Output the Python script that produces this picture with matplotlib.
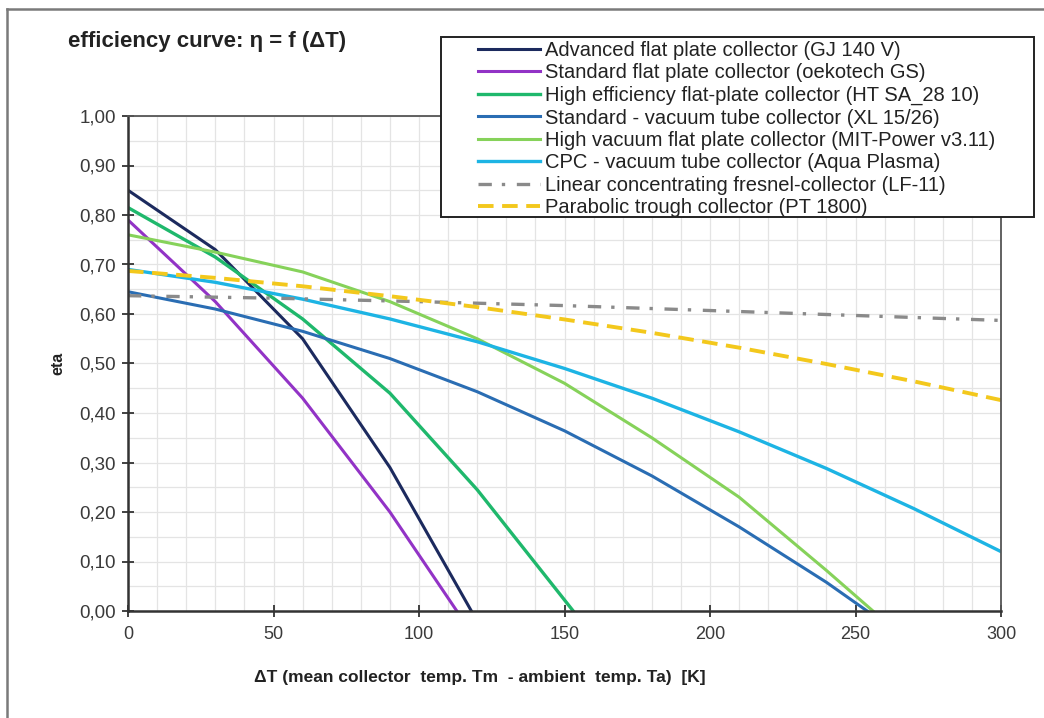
import numpy as np
import matplotlib.pyplot as plt
from matplotlib.lines import Line2D
from matplotlib.patches import Rectangle
from matplotlib.ticker import MultipleLocator, FuncFormatter

plt.rcParams['font.family'] = ['Liberation Sans', 'DejaVu Sans']

# efficiency values read per collector (delta T in K, eta)
t_gj = [0, 30, 60, 90, 118]
eta_gj = [0.85, 0.73, 0.55, 0.29, 0.0]

t_oeko = [0, 30, 60, 90, 113]
eta_oeko = [0.79, 0.625, 0.43, 0.20, 0.0]

t_htsa = [0, 30, 60, 90, 120, 153]
eta_htsa = [0.815, 0.715, 0.59, 0.44, 0.245, 0.0]

t_xl = [0, 30, 60, 90, 120, 150, 180, 210, 240, 254]
eta_xl = [0.645, 0.61, 0.565, 0.51, 0.443, 0.364, 0.273, 0.17, 0.058, 0.0]

t_mit = [0, 30, 60, 90, 120, 150, 180, 210, 240, 256]
eta_mit = [0.76, 0.725, 0.685, 0.625, 0.55, 0.46, 0.35, 0.23, 0.082, 0.0]

t_cpc = [0, 30, 60, 90, 120, 150, 180, 210, 240, 270, 300]
eta_cpc = [0.69, 0.664, 0.63, 0.59, 0.544, 0.49, 0.43, 0.362, 0.288, 0.207, 0.12]

t_lf = [0, 50, 100, 150, 200, 250, 300]
eta_lf = [0.637, 0.632, 0.625, 0.617, 0.607, 0.597, 0.587]

t_pt = [0, 30, 60, 90, 120, 150, 180, 210, 240, 270, 300]
eta_pt = [0.687, 0.673, 0.656, 0.636, 0.614, 0.589, 0.562, 0.532, 0.499, 0.464, 0.426]

labels = [
    'Advanced flat plate collector (GJ 140 V)',
    'Standard flat plate collector (oekotech GS)',
    'High efficiency flat-plate collector (HT SA_28 10)',
    'Standard - vacuum tube collector (XL 15/26)',
    'High vacuum flat plate collector (MIT-Power v3.11)',
    'CPC - vacuum tube collector (Aqua Plasma)',
    'Linear concentrating fresnel-collector (LF-11)',
    'Parabolic trough collector (PT 1800)',
]

W, H = 1044, 718
fig = plt.figure(figsize=(W/100, H/100), dpi=100)
ax = fig.add_axes([128/W, 1-611/H, (1001-128)/W, (611-116)/H])

ax.plot(t_gj, eta_gj, color='#1c2a5e', lw=2.2, label=labels[0])
ax.plot(t_oeko, eta_oeko, color='#9233c6', lw=2.2, label=labels[1])
ax.plot(t_htsa, eta_htsa, color='#1fb86c', lw=2.4, label=labels[2])
ax.plot(t_xl, eta_xl, color='#2a6db3', lw=2.2, label=labels[3])
ax.plot(t_mit, eta_mit, color='#86d25a', lw=2.2, label=labels[4])
ax.plot(t_cpc, eta_cpc, color='#1db4e4', lw=2.4, label=labels[5])
ax.plot(t_lf, eta_lf, color='#8a8a8a', lw=2.4, linestyle=(0, (4, 3, 1, 3.5)),
        label=labels[6])
ax.plot(t_pt, eta_pt, color='#f3c81c', lw=2.8, linestyle=(0, (4, 2.2)),
        label=labels[7])

ax.set_xlim(0, 300)
ax.set_ylim(0, 1.0)
ax.xaxis.set_major_locator(MultipleLocator(50))
ax.xaxis.set_minor_locator(MultipleLocator(10))
ax.yaxis.set_major_locator(MultipleLocator(0.1))
ax.yaxis.set_minor_locator(MultipleLocator(0.05))
ax.yaxis.set_major_formatter(FuncFormatter(lambda v, p: f'{v:.2f}'.replace('.', ',')))

ax.grid(True, which='both', color='#e4e4e4', lw=0.9)
ax.set_axisbelow(True)
ax.tick_params(which='major', direction='inout', length=9, width=1.3,
               color='#333333', labelcolor='#3a3a3a')
ax.tick_params(axis='y', labelsize=13.5, pad=4)
ax.tick_params(axis='x', labelsize=13, pad=6)
ax.tick_params(which='minor', length=0)
for side in ['left', 'bottom']:
    ax.spines[side].set_linewidth(1.8)
    ax.spines[side].set_color('#333333')
for side in ['top', 'right']:
    ax.spines[side].set_linewidth(1.3)
    ax.spines[side].set_color('#555555')

ax.set_xlabel('ΔT (mean collector  temp. Tm  - ambient  temp. Ta)  [K]',
              fontsize=12.5, fontweight='bold', color='#222222', labelpad=20)
ax.xaxis.label.set_x((480-128)/(1001-128))
ax.set_ylabel('eta', fontsize=11.5, fontweight='bold', color='#222222', labelpad=10)

fig.text(68/W, 1-42/H, 'efficiency curve: η = f (ΔT)', fontsize=16,
         fontweight='bold', color='#222222', va='center', ha='left')

# legend box drawn as its own rectangle, entries placed inside it
fig.add_artist(Rectangle((441/W, 1-217/H), (1034-441)/W, (217-37)/H,
                         transform=fig.transFigure, facecolor='white',
                         edgecolor='#222222', lw=1.4, zorder=3))
handles, names = ax.get_legend_handles_labels()
leg = fig.legend(handles, names, loc='upper left', bbox_to_anchor=(478/W, 1-41/H),
                 bbox_transform=fig.transFigure, fontsize=14.5, frameon=False,
                 handlelength=3.1, handletextpad=0.25, labelspacing=0.17,
                 borderpad=0, borderaxespad=0)
leg.set_zorder(4)
for txt in leg.get_texts():
    txt.set_color('#222222')

# outer frame lines around the figure
fig.add_artist(Line2D([7/W, 1], [1-9/H, 1-9/H], transform=fig.transFigure,
                      color='#7a7a7a', lw=1.8))
fig.add_artist(Line2D([7/W, 7/W], [0, 1-9/H], transform=fig.transFigure,
                      color='#7a7a7a', lw=1.8))

fig.savefig('out.png', dpi=100)
